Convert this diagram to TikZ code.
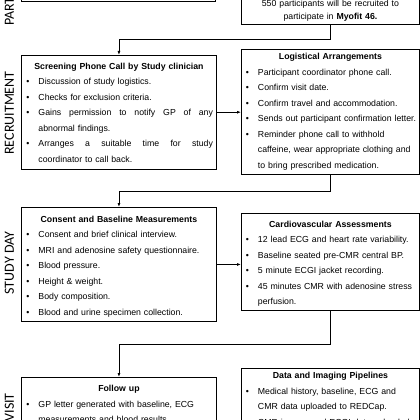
\documentclass[tikz,border=0pt]{standalone}
\usepackage{fontspec}
\setmainfont{Liberation Sans}
\newfontfamily\sidefont{Carlito}
\usetikzlibrary{
    arrows.meta,
    positioning,
    calc,
}
\newcommand\bul[1]{\leftskip=13.5pt\rightskip=0pt\parfillskip=0pt plus 1fil
    \noindent\llap{\makebox[13.5pt][l]{\hspace{1.5pt}\textbullet}}#1\par}
\newcommand\jline[1]{\makebox[\dimexpr\hsize-13.5pt\relax][s]{\spaceskip=\fontdimen2\font plus 1fil\relax#1}\newline}
\newcommand\hd[2]{\par\nointerlineskip{\centering\bfseries\rule{0pt}{#1}#2\par}}

\begin{document}
\begin{tikzpicture}[
        x=1pt, y=-1pt,
        stagebox/.style={
            draw, line width=0.9pt, anchor=north west,
            inner ysep=0pt, text width=#1,
            font=\fontsize{8.75}{15.5}\selectfont,
        },
        leftbox/.style={stagebox=188pt, inner xsep=3.5pt},
        rightbox/.style={stagebox=172pt, inner xsep=3pt},
        sidelabel/.style={
            font=\sidefont\fontsize{14}{14}\selectfont,
            rotate=90, inner sep=0pt,
        },
        link/.style={line width=0.8pt, -{Latex[length=4pt,width=3pt]}},
    ]
        \path[use as bounding box, fill=white] (0,0) rectangle (420,420);

        \node[sidelabel, anchor=west] (lblpart) at (9.5,26) {PART};
        \node[sidelabel] (lblrecruit) at (9.5,113) {RECRUITMENT};
        \node[sidelabel] (lblstudy) at (9.5,263) {STUDY DAY};
        \node[sidelabel, anchor=east] (lblvisit) at (9.5,393) {VISIT};

        \node[draw, line width=0.9pt, anchor=south west, inner sep=0pt,
            minimum width=194pt, minimum height=30pt] (intro) at (21,1.5) {};
        \node[stagebox=172pt, inner xsep=3pt, anchor=south west, align=center] (target) at (241,25)
            {\rule{0pt}{20pt}550 participants will be recruited to\\[-2.6pt]
             participate in \textbf{Myofit 46.}\rule[-5pt]{0pt}{5pt}};

        \node[leftbox] (screen) at (21,55) {\hd{14pt}{Screening Phone Call by Study clinician}
            \bul{Discussion of study logistics.}
            \bul{Checks for exclusion criteria.}
            \bul{\jline{Gains permission to notify GP of any}abnormal findings.}
            \bul{\jline{Arranges a suitable time for study}coordinator to call back.\rule[-6.5pt]{0pt}{6.5pt}}};
        \node[rightbox] (logis) at (241,49) {\hd{10.5pt}{Logistical Arrangements}
            \bul{Participant coordinator phone call.}
            \bul{Confirm visit date.}
            \bul{Confirm travel and accommodation.}
            \bul{Sends out participant confirmation letter.}
            \bul{Reminder phone call to withhold\newline caffeine, wear appropriate clothing and\newline
                to bring prescribed medication.\rule[-5.5pt]{0pt}{5.5pt}}};

        \node[leftbox] (consent) at (21,207) {\hd{15pt}{Consent and Baseline Measurements}
            \bul{Consent and brief clinical interview.}
            \bul{MRI and adenosine safety questionnaire.}
            \bul{Blood pressure.}
            \bul{Height \& weight.}
            \bul{Body composition.}
            \bul{Blood and urine specimen collection.\rule[-6pt]{0pt}{6pt}}};
        \node[rightbox] (cardio) at (241,213) {\hd{14pt}{Cardiovascular Assessments}
            \bul{12 lead ECG and heart rate variability.}
            \bul{Baseline seated pre-CMR central BP.}
            \bul{5 minute ECGI jacket recording.}
            \bul{45 minutes CMR with adenosine stress\newline perfusion.\rule[-5.5pt]{0pt}{5.5pt}}};

        \node[leftbox] (follow) at (21,377) {\hd{14.5pt}{Follow up}
            \bul{GP letter generated with baseline, ECG\newline
                measurements and blood results.\rule[-20pt]{0pt}{20pt}}};
        \node[rightbox] (data) at (241,368) {\hd{10.5pt}{Data and Imaging Pipelines}
            \bul{Medical history, baseline, ECG and\newline CMR data uploaded to REDCap.}
            \bul{CMR images and ECGI data uploaded\rule[-20pt]{0pt}{20pt}}};

        \draw[link] (target.south) -- ++(0,14) -| (screen.north);
        \draw[link] (screen.east) -- (screen.east -| logis.west);
        \draw[link] (logis.south) -- ++(0,17) -| (consent.north);
        \draw[link] (consent.east) -- (consent.east -| cardio.west);
        \draw[link] (cardio.south) -- ++(0,33) -| (follow.north);
    \end{tikzpicture}
\end{document}
